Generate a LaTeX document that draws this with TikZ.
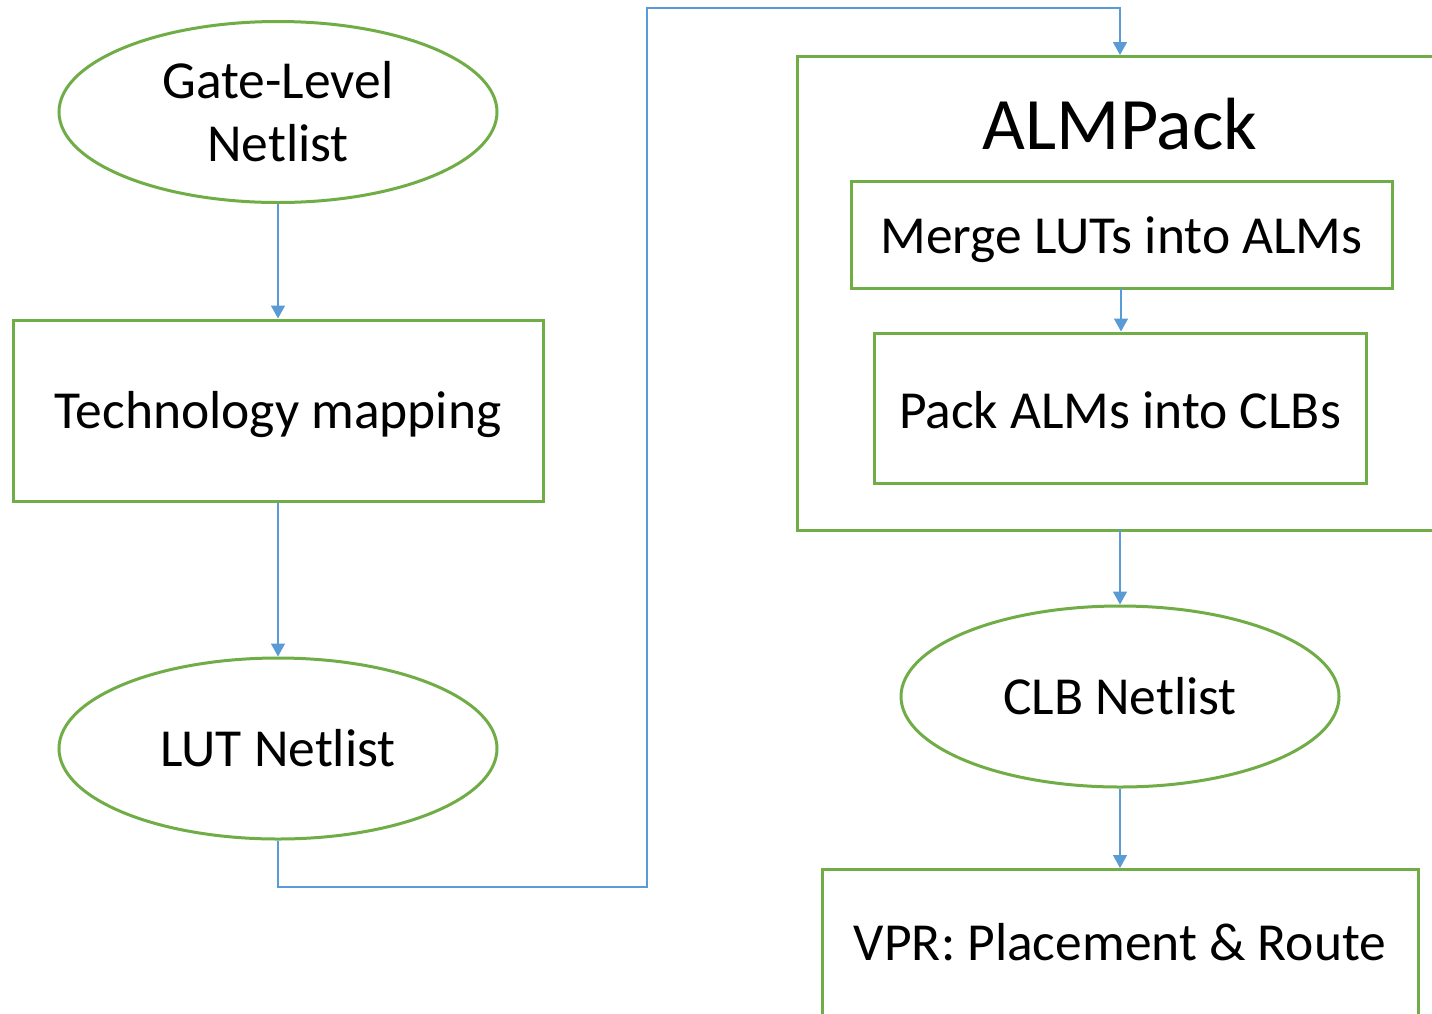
\documentclass[tikz,border=0pt]{standalone}
\usepackage{fontspec}
\setmainfont{Carlito}
\usetikzlibrary{shapes.geometric,arrows.meta}
\definecolor{offgreen}{HTML}{70AD47}
\definecolor{offblue}{HTML}{5B9BD5}
\begin{document}
\begin{tikzpicture}[x=1pt,y=-1pt,
  body/.style={font=\fontsize{53.5}{63}\selectfont},
  greenbox/.style={draw=offgreen,line width=3pt,rectangle,inner sep=0pt,body,text depth=0pt},
  greenell/.style={draw=offgreen,line width=3pt,ellipse,inner sep=0pt,minimum width=438pt,minimum height=181pt,body,align=center},
  flow/.style={draw=offblue,line width=1.5pt,-{Triangle[width=14pt,length=13pt]}}]
\useasboundingbox (0,0) rectangle (1432,1013);
\clip (0,0) rectangle (1432,1013);
\fill[white] (0,0) rectangle (1432,1013);
% left column
\node[greenell] (gate) at (278,112) {Gate-Level\\Netlist};
\node[greenbox,minimum width=530pt,minimum height=181pt,text height=35pt] (tech) at (278,410.5) {Technology mapping};
\node[greenell] (lut) at (278,748.5) {LUT Netlist};
% right column
\node[greenbox,minimum width=650pt,minimum height=474pt,anchor=north west] (alm) at (796,55) {};
\node[font=\fontsize{74}{86}\selectfont,anchor=base] (almtitle) at (1120,149) {ALMPack};
\node[greenbox,minimum width=541pt,minimum height=107pt,text height=37pt] (merge) at (1121.5,234.5) {Merge LUTs into ALMs};
\node[greenbox,minimum width=492pt,minimum height=150pt,text height=40pt] (pack) at (1120,408) {Pack ALMs into CLBs};
\node[greenell] (clb) at (1120,696.5) {CLB Netlist};
\node[greenbox,minimum width=596pt,minimum height=156pt,anchor=north] (vpr) at (1120,868) {};
\node[body,anchor=base] (vprtext) at (1120,960) {VPR: Placement \& Route};
% connectors
\draw[flow] (gate.south) -- (tech.north);
\draw[flow] (tech.south) -- (lut.north);
\coordinate (c1) at (278,887);
\coordinate (c2) at (647,887);
\coordinate (c3) at (647,8);
\coordinate (c4) at (1120,8);
\draw[flow] (lut.south) -- (c1) -- (c2) -- (c3) -- (c4) -- (1120,55);
\draw[flow] (1121,288) -- (pack.north -| 1121,288);
\draw[flow] (1120,529) -- (clb.north);
\draw[flow] (clb.south) -- (vpr.north);
\end{tikzpicture}
\end{document}
